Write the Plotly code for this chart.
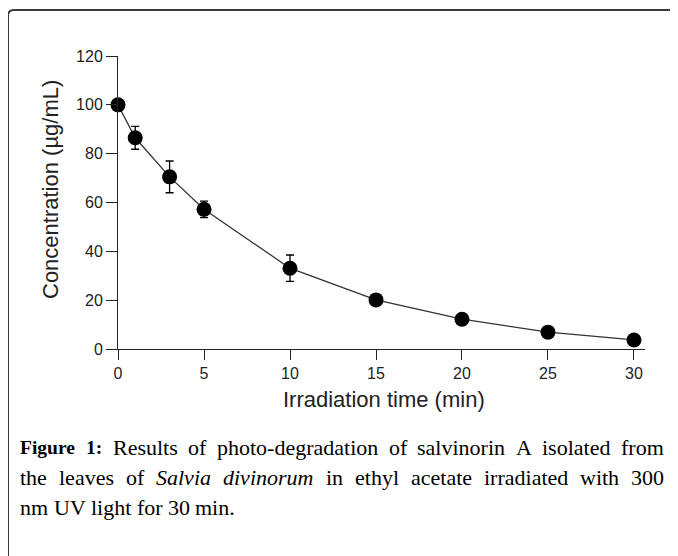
import plotly.graph_objects as go

time_min = [0, 1, 3, 5, 10, 15, 20, 25, 30]
concentration = [100, 86.5, 70.5, 57.2, 33.1, 20.1, 12.2, 6.9, 3.7]
error = [0, 4.7, 6.5, 3.4, 5.4, 0, 0, 0, 0]
x_ticks = [0, 5, 10, 15, 20, 25, 30]
y_ticks = [0, 20, 40, 60, 80, 100, 120]

# page body has an 8px margin, so the figure is laid out in page coords minus 8
OFF = 8
W, H = 678 - OFF, 556 - OFF
L, R, T, B = 118 - OFF, 645 - OFF, 56 - OFF, 349 - OFF  # plot area pixels


def px(x):
    return (x - OFF - L) / (R - L)


def py(y):
    return (B - (y - OFF)) / (B - T)


fig = go.Figure()
fig.add_trace(go.Scatter(
    x=time_min, y=concentration,
    mode="lines+markers",
    line=dict(color="#333333", width=1.3),
    marker=dict(color="black", size=15),
    error_y=dict(type="data", array=error, color="black", thickness=1.3, width=4, visible=True),
    cliponaxis=False,
    showlegend=False,
))

sans = "Liberation Sans, Arial, sans-serif"
axis_font = dict(family=sans, size=16, color="#222222")

fig.update_xaxes(
    range=[0, 30.64], tickvals=x_ticks, ticks="outside", ticklen=10, tickwidth=1,
    tickcolor="#222", showline=True, linecolor="#222", linewidth=1,
    showgrid=False, zeroline=False, tickfont=axis_font,
)
fig.update_yaxes(
    range=[0, 120], tickvals=y_ticks, ticks="outside", ticklen=11, tickwidth=1,
    tickcolor="#222", showline=True, linecolor="#222", linewidth=1,
    showgrid=False, zeroline=False, tickfont=axis_font,
)

title_font = dict(family=sans, size=22, color="#222222")
fig.add_annotation(text="Irradiation time (min)", xref="paper", yref="paper",
                   x=px(384), y=py(399), xanchor="center", yanchor="middle",
                   showarrow=False, font=title_font)
fig.add_annotation(text="Concentration (µg/mL)", xref="paper", yref="paper",
                   x=px(50), y=py(190), xanchor="center", yanchor="middle",
                   textangle=-90, showarrow=False, font=title_font)

# rounded border
fig.add_shape(type="path", xref="paper", yref="paper",
              path=(f"M {px(8)},{py(580)} L {px(8)},{py(16)} "
                    f"Q {px(8)},{py(10)} {px(14)},{py(10)} L {px(700)},{py(10)}"),
              line=dict(color="#3a3a3a", width=2))

# ---- caption (justified) ----
# Times metrics (per 1000 em)
REG = {' ': 250, ':': 278, '.': 250, '-': 333, '0': 500, '1': 500, '3': 500,
       'A': 722, 'F': 556, 'R': 667, 'S': 556, 'U': 722, 'V': 722,
       'a': 444, 'b': 500, 'c': 444, 'd': 500, 'e': 444, 'f': 333, 'g': 500,
       'h': 500, 'i': 278, 'j': 278, 'k': 500, 'l': 278, 'm': 778, 'n': 500,
       'o': 500, 'p': 500, 'q': 500, 'r': 333, 's': 389, 't': 278, 'u': 500,
       'v': 500, 'w': 722, 'x': 500, 'y': 500, 'z': 444}
BOLD = {'F': 611, 'i': 278, 'g': 500, 'u': 556, 'r': 444, 'e': 444, '1': 500, ':': 333, ' ': 250}
ITAL = {'S': 500, 'a': 500, 'l': 278, 'v': 444, 'i': 278, 'd': 500, 'n': 500,
        'o': 500, 'r': 389, 'u': 500, 'm': 722, ' ': 250}

CAP_SIZE = 22
BOLD_SIZE = 19.5
serif = "Liberation Serif, Times New Roman, serif"


def wwidth(word, style):
    table = {"b": BOLD, "i": ITAL}.get(style, REG)
    size = BOLD_SIZE if style == "b" else CAP_SIZE
    return sum(table.get(c, REG.get(c, 500)) for c in word) * size / 1000


def markup(word, style):
    if style == "b":
        return f"<b>{word}</b>"
    if style == "i":
        return f"<i>{word}</i>"
    return word


caption_lines = [
    ([("Figure", "b"), ("1:", "b"), ("Results", ""), ("of", ""), ("photo-degradation", ""),
      ("of", ""), ("salvinorin", ""), ("A", ""), ("isolated", ""), ("from", "")], True),
    ([("the", ""), ("leaves", ""), ("of", ""), ("Salvia", "i"), ("divinorum", "i"), ("in", ""),
      ("ethyl", ""), ("acetate", ""), ("irradiated", ""), ("with", ""), ("300", "")], True),
    ([("nm", ""), ("UV", ""), ("light", ""), ("for", ""), ("30", ""), ("min.", "")], False),
]
LEFT, RIGHT = 20, 664
for i, (words, justify) in enumerate(caption_lines):
    widths = [wwidth(w, s) for w, s in words]
    if justify:
        gap = (RIGHT - LEFT - sum(widths)) / (len(words) - 1)
    else:
        gap = 0.25 * CAP_SIZE
    xcur = LEFT
    for (w, s), wd in zip(words, widths):
        size = BOLD_SIZE if s == "b" else CAP_SIZE
        fig.add_annotation(text=markup(w, s), xref="paper", yref="paper",
                           x=px(xcur - 2), y=py(447 + 30 * i), xanchor="left", yanchor="middle",
                           showarrow=False, font=dict(family=serif, size=size, color="black"))
        xcur += wd + gap

fig.update_layout(
    width=W, height=H,
    margin=dict(l=L, r=W - R, t=T, b=H - B),
    paper_bgcolor="white", plot_bgcolor="white",
)

fig.write_html("out.html")
